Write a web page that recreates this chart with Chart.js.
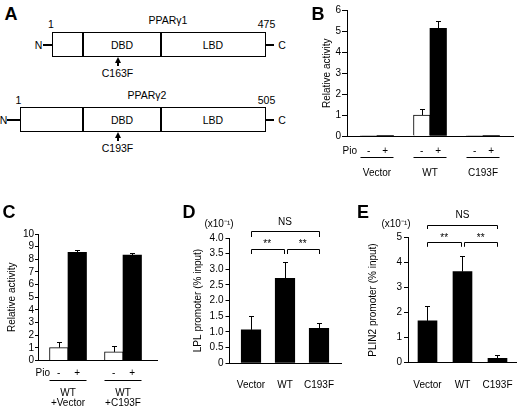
<!DOCTYPE html>
<html><head><meta charset="utf-8">
<script src="https://cdn.jsdelivr.net/npm/chart.js@4.4.1/dist/chart.umd.min.js"></script>
<style>
html,body{margin:0;padding:0;background:#fff;}
#fig{position:relative;width:520px;height:408px;overflow:hidden;font-family:"Liberation Sans",Arial,Helvetica,sans-serif;color:#000;background:#fff;}
.t{position:absolute;transform:translate(-50%,-50%);white-space:nowrap;line-height:1;font-size:10.5px;}
.lbl{position:absolute;transform:translate(-50%,-50%);font-weight:bold;font-size:18px;line-height:1;z-index:5;}
.box{position:absolute;border:1.5px solid #000;box-sizing:border-box;}
.vl{position:absolute;width:1.5px;background:#000;}
.hl{position:absolute;height:1.5px;background:#000;}
.tri{position:absolute;width:0;height:0;border-left:3px solid transparent;border-right:3px solid transparent;border-bottom:6px solid #000;}
canvas{position:absolute;}
</style></head>
<body><div id="fig">
<!-- Panel A : domain diagram -->
<div class="t" style="left:168px;top:19.5px">PPARγ1</div>
<div class="t" style="left:51px;top:24px">1</div>
<div class="t" style="left:266.5px;top:24px">475</div>
<div class="box" style="left:52px;top:32px;width:214px;height:25px"></div>
<div class="vl" style="left:82px;top:32px;height:25px"></div>
<div class="vl" style="left:160px;top:32px;height:25px"></div>
<div class="hl" style="left:43px;top:44px;width:9px"></div>
<div class="hl" style="left:266px;top:44px;width:8px"></div>
<div class="t" style="left:38.5px;top:45px">N</div>
<div class="t" style="left:282px;top:45px">C</div>
<div class="t" style="left:122px;top:45px">DBD</div>
<div class="t" style="left:213px;top:45px">LBD</div>
<div class="tri" style="left:114.5px;top:57px"></div>
<div class="vl" style="left:117px;top:62px;height:4px"></div>
<div class="t" style="left:117.5px;top:73px">C163F</div>

<div class="t" style="left:147px;top:95px">PPARγ2</div>
<div class="t" style="left:18.5px;top:100px">1</div>
<div class="t" style="left:266.5px;top:100px">505</div>
<div class="box" style="left:20px;top:107px;width:246px;height:25px"></div>
<div class="vl" style="left:82px;top:107px;height:25px"></div>
<div class="vl" style="left:160px;top:107px;height:25px"></div>
<div class="hl" style="left:7px;top:119px;width:13px"></div>
<div class="hl" style="left:266px;top:119px;width:8px"></div>
<div class="t" style="left:3.5px;top:119.5px">N</div>
<div class="t" style="left:282px;top:119.5px">C</div>
<div class="t" style="left:122px;top:119.5px">DBD</div>
<div class="t" style="left:213px;top:119.5px">LBD</div>
<div class="tri" style="left:114.5px;top:132px"></div>
<div class="vl" style="left:117px;top:137px;height:4px"></div>
<div class="t" style="left:117.5px;top:148px">C193F</div>

<canvas id="cB" width="200" height="180" style="left:320px;top:0px"></canvas>
<canvas id="cC" width="175" height="208" style="left:0px;top:200px"></canvas>
<canvas id="cD" width="170" height="208" style="left:175px;top:200px"></canvas>
<canvas id="cE" width="175" height="208" style="left:345px;top:200px"></canvas>

<div class="lbl" style="left:11px;top:14px">A</div>
<div class="lbl" style="left:318px;top:14px">B</div>
<div class="lbl" style="left:9px;top:212px">C</div>
<div class="lbl" style="left:189px;top:212px">D</div>
<div class="lbl" style="left:363px;top:212px">E</div>
</div>
<script>
// ---------- data ----------
const groupsB = ['Vector', 'WT', 'C193F'];
const pioMinusB = [0.03, 1.0, 0.03];
const pioPlusB = [0.03, 5.15, 0.03];
const sdMinusB = [0, 0.3, 0];
const sdPlusB = [0, 0.37, 0];

const groupsC = [['WT', '+Vector'], ['WT', '+C193F']];
const pioMinusC = [1.02, 0.68];
const pioPlusC = [8.55, 8.33];
const sdMinusC = [0.47, 0.46];
const sdPlusC = [0.18, 0.19];

const samplesD = ['Vector', 'WT', 'C193F'];
const lplD = [1.06, 2.71, 1.11];
const sdD = [0.44, 0.52, 0.18];

const samplesE = ['Vector', 'WT', 'C193F'];
const plin2E = [1.66, 3.64, 0.16];
const sdE = [0.60, 0.62, 0.13];

const pioName = 'Pio';
const pioSigns = ['-', '+'];
const scaleNote = '(x10\u207B\u00B9)';

// ---------- helpers ----------
const FONT = '"Liberation Sans", Arial, Helvetica, sans-serif';
Chart.defaults.font.family = FONT;
Chart.defaults.font.size = 10;
Chart.defaults.color = '#000';
Chart.defaults.animation = false;

function xy(vals) { return vals.map((v, i) => ({ x: i + 1, y: v })); }

function yAxis(o) {
  return {
    type: 'linear', min: o.min, max: o.max,
    border: { display: true, color: '#000', width: 1 },
    grid: { display: true, drawOnChartArea: false, drawTicks: true, tickLength: o.tl, color: '#000', lineWidth: 1 },
    ticks: { stepSize: o.step, autoSkip: false, padding: o.tp, color: '#000', font: { size: 10 }, callback: o.cb },
    title: { display: true, text: o.title, color: '#000', font: { size: 10 }, padding: { top: o.titlePad, bottom: 0 } },
    afterFit(s) { s.width = o.width; s.paddingTop = 0; s.paddingBottom = 0; }
  };
}
function xAxis(o) {
  return {
    type: 'linear', min: o.min, max: o.max, offset: false,
    border: { display: true, color: '#000', width: 1 },
    grid: { display: false, offset: false },
    ticks: { autoSkip: false, maxRotation: 0, minRotation: 0, padding: o.pad, color: '#000',
             font: { size: 10, lineHeight: o.lh }, callback: (v) => o.labels[Math.round(v) - 1] },
    afterBuildTicks(s) { s.ticks = o.labels.map((_, i) => ({ value: i + 1 })); },
    afterFit(s) { s.height = o.height; s.paddingLeft = 0; s.paddingRight = 0; }
  };
}

const errPlugin = {
  id: 'errbars',
  afterDatasetsDraw(chart) {
    const ctx = chart.ctx, ys = chart.scales.y;
    chart.data.datasets.forEach((ds, di) => {
      if (!ds.sd) return;
      const meta = chart.getDatasetMeta(di);
      meta.data.forEach((bar, i) => {
        const sd = ds.sd[i];
        if (!sd) return;
        const v = ds.data[i].y;
        const yt = Math.round(ys.getPixelForValue(v + sd)) + 0.5;
        const x = Math.round(bar.x) + 0.5;
        ctx.save();
        ctx.strokeStyle = '#000'; ctx.lineWidth = 1;
        ctx.beginPath();
        ctx.moveTo(x, bar.y); ctx.lineTo(x, yt);
        ctx.moveTo(x - 2.5, yt); ctx.lineTo(x + 2.5, yt);
        ctx.stroke();
        ctx.restore();
      });
    });
  }
};

function makeAnnot(cfg) {
  return {
    id: 'annot',
    afterDraw(chart) {
      const ctx = chart.ctx, ca = chart.chartArea;
      ctx.save();
      ctx.fillStyle = '#000'; ctx.strokeStyle = '#000'; ctx.lineWidth = 1;
      ctx.font = '10px ' + FONT;
      ctx.textBaseline = 'middle';
      if (cfg.pio) {
        const p = cfg.pio;
        const y = ca.bottom + p.rowDy;
        const ly = Math.round(ca.bottom + p.lineDy) + 0.5;
        ctx.textAlign = 'right';
        ctx.fillText(pioName, p.nameRight, y);
        ctx.textAlign = 'center';
        const m0 = chart.getDatasetMeta(0), m1 = chart.getDatasetMeta(1);
        m0.data.forEach((b0, i) => {
          const b1 = m1.data[i];
          ctx.fillText(pioSigns[0], b0.x, y);
          ctx.fillText(pioSigns[1], b1.x, y);
          ctx.beginPath();
          ctx.moveTo(b0.x - b0.width / 2, ly);
          ctx.lineTo(b1.x + b1.width / 2, ly);
          ctx.stroke();
        });
      }
      if (cfg.note) {
        ctx.textAlign = 'center';
        ctx.fillText(scaleNote, ca.left + cfg.note.dx, ca.top + cfg.note.dy);
      }
      if (cfg.brackets) {
        const m = chart.getDatasetMeta(0);
        cfg.brackets.forEach(b => {
          const x1 = m.data[b.from].x + (b.inFrom || 0);
          const x2 = m.data[b.to].x + (b.inTo || 0);
          const y = Math.round(ca.top + b.dy) + 0.5;
          const xa = Math.round(x1) + 0.5, xb = Math.round(x2) + 0.5;
          ctx.beginPath();
          ctx.moveTo(xa, y + b.leg); ctx.lineTo(xa, y); ctx.lineTo(xb, y); ctx.lineTo(xb, y + b.leg);
          ctx.stroke();
          ctx.textAlign = 'center';
          ctx.fillText(b.label, (x1 + x2) / 2, y + b.ldy);
        });
      }
      ctx.restore();
    }
  };
}

function groupedChart(id, o) {
  return new Chart(document.getElementById(id), {
    type: 'bar',
    data: {
      datasets: [
        { data: xy(o.minus), sd: o.sdMinus, backgroundColor: '#fff', borderColor: '#000', borderWidth: 1, barThickness: o.bt },
        { data: xy(o.plus), sd: o.sdPlus, backgroundColor: '#000', borderColor: '#000', borderWidth: 0, barThickness: o.bt }
      ]
    },
    options: {
      responsive: false, animation: false,
      layout: { padding: o.layout },
      plugins: { legend: { display: false }, tooltip: { enabled: false } },
      scales: { x: o.x, y: o.y }
    },
    plugins: [errPlugin, makeAnnot(o.annot)]
  });
}
function singleChart(id, o) {
  return new Chart(document.getElementById(id), {
    type: 'bar',
    data: { datasets: [{ data: xy(o.vals), sd: o.sd, backgroundColor: '#000', borderWidth: 0, barThickness: o.bt }] },
    options: {
      responsive: false, animation: false,
      layout: { padding: o.layout },
      plugins: { legend: { display: false }, tooltip: { enabled: false } },
      scales: { x: o.x, y: o.y }
    },
    plugins: [errPlugin, makeAnnot(o.annot)]
  });
}

// ---------- Panel B ----------
groupedChart('cB', {
  minus: pioMinusB, plus: pioPlusB, sdMinus: sdMinusB, sdPlus: sdPlusB, bt: 16.5,
  layout: { top: 10.5, right: 7, bottom: 0, left: 0 },
  x: xAxis({ min: 0.434, max: 3.566, labels: groupsB, pad: 23.5, lh: 1.2, height: 44 }),
  y: yAxis({ min: 0, max: 6, step: 1, tl: 5, tp: 1, title: 'Relative activity', titlePad: 1, width: 27 }),
  annot: { pio: { rowDy: 15.5, lineDy: 20.5, nameRight: 37 } }
});

// ---------- Panel C ----------
groupedChart('cC', {
  minus: pioMinusC, plus: pioPlusC, sdMinus: sdMinusC, sdPlus: sdPlusC, bt: 18.5,
  layout: { top: 34, right: 18, bottom: 0, left: 0 },
  x: xAxis({ min: 0.4545, max: 2.618, labels: groupsC, pad: 19.5, lh: 1.0, height: 47.5 }),
  y: yAxis({ min: 0, max: 10, step: 1, tl: 3, tp: 1, title: 'Relative activity', titlePad: 6, width: 38 }),
  annot: { pio: { rowDy: 12.5, lineDy: 19.5, nameRight: 50 } }
});

// ---------- Panel D ----------
singleChart('cD', {
  vals: lplD, sd: sdD, bt: 19.5,
  layout: { top: 38, right: 4, bottom: 0, left: 0 },
  x: xAxis({ min: 0.3676, max: 3.647, labels: samplesD, pad: 8, lh: 1.2, height: 45 }),
  y: yAxis({ min: 0, max: 4, step: 0.5, tl: 4, tp: 2, title: 'LPL promoter (% input)', titlePad: 17, width: 54.5,
             cb: (v) => v === 0 ? '0' : v.toFixed(1) }),
  annot: {
    note: { dx: -10.5, dy: -14 },
    brackets: [
      { from: 0, to: 2, dy: -7.3, leg: 5.5, label: 'NS', ldy: -9 },
      { from: 0, to: 1, inTo: -1.5, dy: 11, leg: 4.5, label: '**', ldy: -5 },
      { from: 1, to: 2, inFrom: 1.5, dy: 11, leg: 4.5, label: '**', ldy: -5 }
    ]
  }
});

// ---------- Panel E ----------
singleChart('cE', {
  vals: plin2E, sd: sdE, bt: 19,
  layout: { top: 37.7, right: 4, bottom: 0, left: 0 },
  x: xAxis({ min: 0.443, max: 3.529, labels: samplesE, pad: 8.7, lh: 1.2, height: 45.7 }),
  y: yAxis({ min: 0, max: 5, step: 1, tl: 4, tp: 2, title: 'PLIN2 promoter (% input)', titlePad: 22, width: 63 }),
  annot: {
    note: { dx: -12, dy: -13.7 },
    brackets: [
      { from: 0, to: 2, dy: -12.7, leg: 3.5, label: 'NS', ldy: -10 },
      { from: 0, to: 1, inTo: -1.5, dy: 4, leg: 4.3, label: '**', ldy: -4.7 },
      { from: 1, to: 2, inFrom: 1.5, dy: 4, leg: 4.3, label: '**', ldy: -4.7 }
    ]
  }
});
</script>
</body></html>
